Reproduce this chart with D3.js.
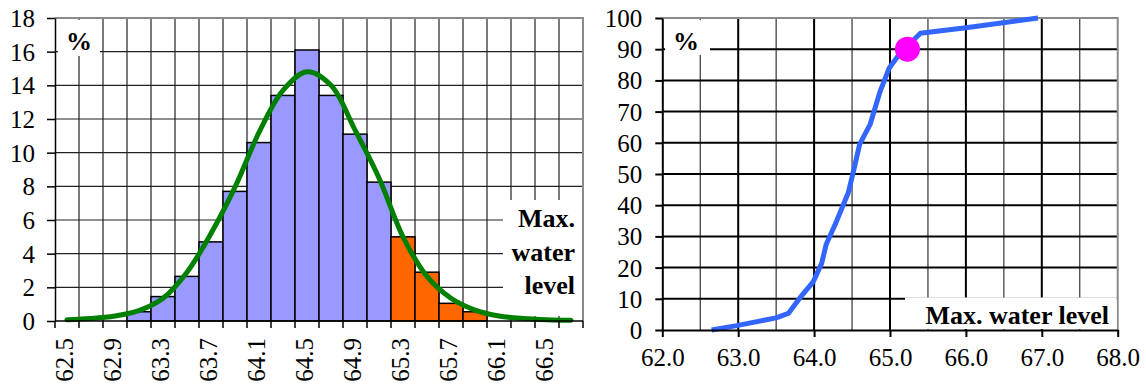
<!DOCTYPE html>
<html><head><meta charset="utf-8">
<script src="https://cdn.jsdelivr.net/npm/d3@7/dist/d3.min.js"></script>
<style>
html,body{margin:0;padding:0;background:#fff;}
svg{display:block;}
svg text{font-family:"Liberation Serif","Times New Roman","DejaVu Serif",serif !important;fill:#000;}
</style></head>
<body>
<svg id="chart" width="1146" height="390"></svg>
<script>
// ---------- data ----------
const categories = ["62.5","62.7","62.9","63.1","63.3","63.5","63.7","63.9","64.1","64.3","64.5",
                    "64.7","64.9","65.1","65.3","65.5","65.7","65.9","66.1","66.3","66.5","66.7"];
const frequency = [0,0,0,0.55,1.45,2.65,4.7,7.7,10.6,13.4,16.1,13.4,11.1,8.25,5.0,2.9,1.05,0.55,0,0,0,0];
const normalFit = [0.08,0.15,0.3,0.62,1.35,2.9,5.2,7.95,11.2,13.7,14.8,14.0,11.35,8.5,5.0,2.65,1.35,0.65,0.3,0.15,0.08,0.05];
const exceedFrom = "65.3";
const leftYTicks = [0,2,4,6,8,10,12,14,16,18];
const leftXLabels = ["62.5","62.9","63.3","63.7","64.1","64.5","64.9","65.3","65.7","66.1","66.5"];

const cdfLevel = [62.65,62.98,63.5,63.66,63.81,63.99,64.1,64.16,64.28,64.4,64.45,64.52,64.6,64.74,64.87,64.99,65.12,65.23,65.4,66.0,66.95];
const cdfPct   = [0,1.4,3.9,5.3,10.2,15.5,21.4,27.5,34,41,44,51,59.5,66,76.5,84,88.3,91,95.1,96.9,100];
const markLevel = [65.23];
const markPct = [90];
const rightYTicks = [0,10,20,30,40,50,60,70,80,90,100];
const rightXTicks = [62,63,64,65,66,67,68];
const rightXMinor = [62.5,63,63.5,64,64.5,65,65.5,66,66.5,67,67.5];

const FONT = '"Liberation Serif","Times New Roman","DejaVu Serif",serif';
const svg = d3.select("#chart");
svg.append("rect").attr("width",1146).attr("height",390).attr("fill","#fff");

// ---------- left chart ----------
const L = {x0:55, x1:583, y0:18, y1:321};
const xb = d3.scaleBand().domain(categories).range([L.x0, L.x1]).padding(0);
const yl = d3.scaleLinear().domain([0,18]).range([L.y1, L.y0]);
const gl = svg.append("g");

gl.append("g").selectAll("line").data(leftYTicks.filter(d=>d>0 && d<18)).join("line")
  .attr("x1",L.x0).attr("x2",L.x1).attr("y1",d=>yl(d)).attr("y2",d=>yl(d))
  .attr("stroke","#222").attr("stroke-width",1.2);
const bounds = categories.map(c=>xb(c)).slice(1);
gl.append("g").selectAll("line").data(bounds).join("line")
  .attr("x1",d=>d).attr("x2",d=>d).attr("y1",L.y0).attr("y2",L.y1)
  .attr("stroke","#222").attr("stroke-width",1.2);
gl.append("path").attr("d",`M${L.x0},${L.y0}H${L.x1}V${L.y1}`).attr("fill","none")
  .attr("stroke","#8a8a8a").attr("stroke-width",2);

gl.append("rect").attr("x",58).attr("y",20).attr("width",42).attr("height",36).attr("fill","#fff");
gl.append("text").attr("x",79).attr("y",50).attr("text-anchor","middle")
  .attr("font-size",26).attr("font-weight","bold").style("font-family",FONT).text("%");
gl.append("rect").attr("x",503).attr("y",200).attr("width",79).attr("height",116).attr("fill","#fff");
const lbl = gl.append("text").attr("text-anchor","end").attr("font-size",26).attr("font-weight","bold").style("font-family",FONT);
[["Max.",226.7],["water",261],["level",294.3]].forEach(([t,y])=>{
  lbl.append("tspan").attr("x",575).attr("y",y).text(t);
});

gl.append("g").selectAll("rect").data(categories.map((c,i)=>({c,v:frequency[i]})).filter(d=>d.v>0)).join("rect")
  .attr("x",d=>xb(d.c)).attr("width",xb.bandwidth())
  .attr("y",d=>yl(d.v)).attr("height",d=>yl(0)-yl(d.v))
  .attr("fill",d=>(+d.c >= +exceedFrom) ? "#ff6600" : "#9999ff")
  .attr("stroke","#000").attr("stroke-width",1.5);

const fitLine = d3.line().x((d,i)=>xb(categories[i])+xb.bandwidth()/2).y(d=>yl(d)).curve(d3.curveCatmullRom.alpha(0.5));
gl.append("path").attr("d",fitLine(normalFit)).attr("fill","none")
  .attr("stroke","#008000").attr("stroke-width",5).attr("stroke-linecap","round");

const yAxL = gl.append("g").attr("transform",`translate(${L.x0},0)`)
  .call(d3.axisLeft(yl).tickValues(leftYTicks).tickSize(8).tickPadding(12).tickSizeOuter(0));
yAxL.attr("font-family",null).attr("font-size",null);
yAxL.select(".domain").attr("stroke","#000").attr("stroke-width",1.5);
yAxL.selectAll(".tick line").attr("stroke","#000").attr("stroke-width",1.5);
yAxL.selectAll("text").style("font-size","25px").style("font-family",FONT).attr("dy","0.34em");

gl.append("line").attr("x1",L.x0).attr("x2",L.x1).attr("y1",L.y1).attr("y2",L.y1).attr("stroke","#000").attr("stroke-width",1.5);
gl.append("g").selectAll("line").data(categories.map(c=>xb(c)).concat([L.x1])).join("line")
  .attr("x1",d=>d).attr("x2",d=>d).attr("y1",L.y1).attr("y2",L.y1+7).attr("stroke","#000").attr("stroke-width",1.5);
gl.append("g").selectAll("text").data(leftXLabels).join("text")
  .attr("transform",d=>`translate(${xb(d)+xb.bandwidth()/2},338) rotate(-90)`)
  .attr("text-anchor","end").attr("dy","0.24em").style("font-size","25px").style("font-family",FONT).text(d=>d);

// ---------- right chart ----------
const R = {x0:662.3, x1:1117.7, y0:18, y1:330};
const xr = d3.scaleLinear().domain([62,68]).range([R.x0, R.x1]);
const yr = d3.scaleLinear().domain([0,100]).range([R.y1, R.y0]);
const gr = svg.append("g");

gr.append("g").selectAll("line").data(rightXMinor.filter(d=>d%1!==0)).join("line")
  .attr("x1",d=>xr(d)).attr("x2",d=>xr(d)).attr("y1",R.y0).attr("y2",R.y1)
  .attr("stroke","#333").attr("stroke-width",1.2);
gr.append("g").selectAll("line").data(rightXMinor.filter(d=>d%1===0)).join("line")
  .attr("x1",d=>xr(d)).attr("x2",d=>xr(d)).attr("y1",R.y0).attr("y2",R.y1)
  .attr("stroke","#000").attr("stroke-width",2);
gr.append("g").selectAll("line").data(rightYTicks.filter(d=>d>0 && d<100)).join("line")
  .attr("x1",R.x0).attr("x2",R.x1).attr("y1",d=>yr(d)).attr("y2",d=>yr(d))
  .attr("stroke","#000").attr("stroke-width",2);
gr.append("path").attr("d",`M${R.x0},${R.y0}H${R.x1}V${R.y1}`).attr("fill","none")
  .attr("stroke","#8a8a8a").attr("stroke-width",2);

gr.append("rect").attr("x",665).attr("y",20).attr("width",45).attr("height",35).attr("fill","#fff");
gr.append("text").attr("x",686).attr("y",50).attr("text-anchor","middle")
  .attr("font-size",26).attr("font-weight","bold").style("font-family",FONT).text("%");
gr.append("rect").attr("x",905).attr("y",297.5).attr("width",211.7).attr("height",31.5).attr("fill","#fff");
gr.append("text").attr("x",1109).attr("y",324).attr("text-anchor","end")
  .attr("font-size",26).attr("font-weight","bold").style("font-family",FONT).text("Max. water level");

const cdfLine = d3.line().x((d,i)=>xr(cdfLevel[i])).y(d=>yr(d));
gr.append("path").attr("d",cdfLine(cdfPct)).attr("fill","none")
  .attr("stroke","#3366ff").attr("stroke-width",5).attr("stroke-linejoin","round").attr("stroke-linecap","butt");
gr.append("g").selectAll("circle").data(markPct).join("circle")
  .attr("cx",(d,i)=>xr(markLevel[i])).attr("cy",d=>yr(d)).attr("r",12.5).attr("fill","#ff00ff");

const yAxR = gr.append("g").attr("transform",`translate(${R.x0},0)`)
  .call(d3.axisLeft(yr).tickValues(rightYTicks).tickSize(7).tickPadding(13).tickSizeOuter(0));
yAxR.attr("font-family",null).attr("font-size",null);
yAxR.select(".domain").attr("stroke","#000").attr("stroke-width",2);
yAxR.selectAll(".tick line").attr("stroke","#000").attr("stroke-width",2);
yAxR.selectAll("text").style("font-size","25px").style("font-family",FONT).attr("dy","0.34em");

const xAxR = gr.append("g").attr("transform",`translate(0,${R.y1})`)
  .call(d3.axisBottom(xr).tickValues(rightXTicks).tickFormat(d3.format(".1f")).tickSize(7).tickPadding(29).tickSizeOuter(0));
xAxR.attr("font-family",null).attr("font-size",null);
xAxR.select(".domain").attr("stroke","#000").attr("stroke-width",2);
xAxR.selectAll(".tick line").attr("stroke","#000").attr("stroke-width",2);
xAxR.selectAll("text").style("font-size","25px").style("font-family",FONT).attr("dy","0em");
</script>
</body></html>
